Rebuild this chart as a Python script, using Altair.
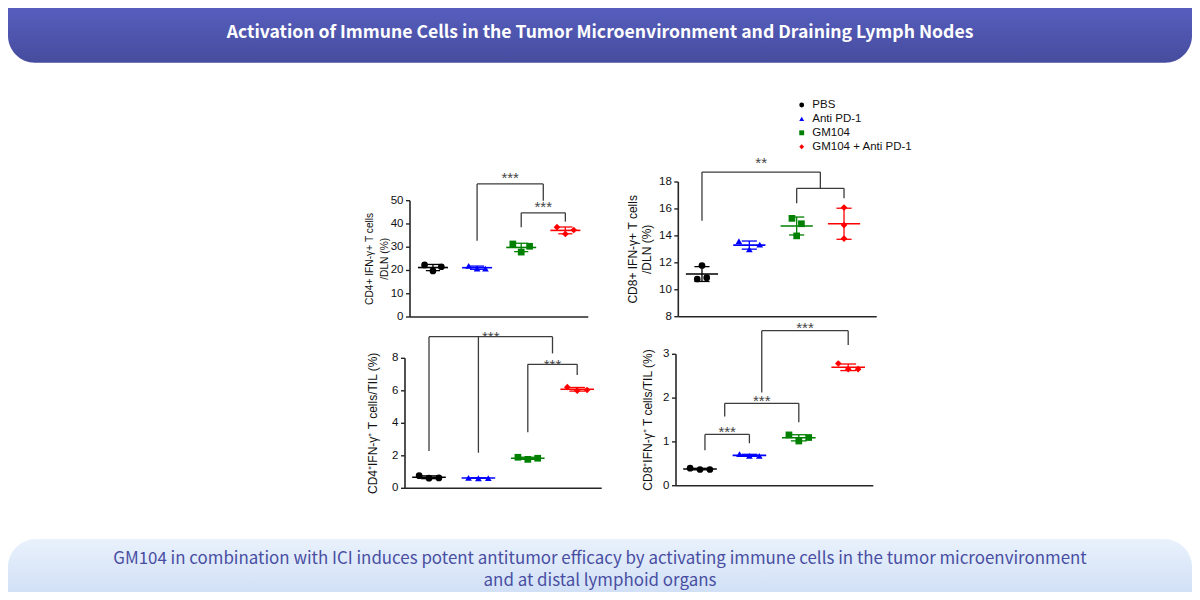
import altair as alt
import pandas as pd

# ---------------- data ----------------
groups = ["PBS", "Anti PD-1", "GM104", "GM104 + Anti PD-1"]
group_colors = ["#000000", "#0000ff", "#008000", "#ff0000"]
group_shapes = ["circle", "triangle-up", "square", "diamond"]

header_title = "Activation of Immune Cells in the Tumor Microenvironment and Draining Lymph Nodes"
footer_text = ("GM104 in combination with ICI induces potent antitumor efficacy by activating immune cells in the tumor microenvironment"
               "\nand at distal lymphoid organs")

# replicate values per group (PBS, Anti PD-1, GM104, GM104 + Anti PD-1)
cd4_dln = [[22.4, 19.8, 21.6], [22.0, 20.8, 20.8], [31.4, 27.9, 30.4], [38.6, 35.7, 37.4]]
cd8_dln = [[10.8, 11.8, 10.9], [13.6, 13.0, 13.35], [15.3, 14.0, 14.9], [16.1, 14.8, 13.8]]
cd4_til = [[0.78, 0.62, 0.64], [0.64, 0.62, 0.63], [1.91, 1.78, 1.85], [6.22, 6.01, 6.05]]
cd8_til = [[0.40, 0.37, 0.37], [0.72, 0.68, 0.68], [1.16, 1.02, 1.10], [2.79, 2.66, 2.66]]

cd4_dln_ticks = [0, 10, 20, 30, 40, 50]
cd8_dln_ticks = [8, 10, 12, 14, 16, 18]
cd4_til_ticks = [0, 2, 4, 6, 8]
cd8_til_ticks = [0, 1, 2, 3]

cd4_dln_title = "CD4+ IFN-γ+ T cells\n/DLN (%)"
cd8_dln_title = "CD8+ IFN-γ+ T cells\n/DLN (%)"
cd4_til_title = "CD4⁺IFN-γ⁺ T cells/TIL (%)"
cd8_til_title = "CD8⁺IFN-γ⁺ T cells/TIL (%)"

# significance brackets: bars (from group, to group, level, label), legs (at group, bottom, top)
cd4_dln_bars = [(2, 3.5, 57.2, "***"), (3, 4, 44.8, "***")]
cd4_dln_legs = [(2, 32.8, 57.2), (3.5, 50.0, 57.2), (3, 38.6, 44.8), (4, 41.0, 44.8)]
cd8_dln_bars = [(1, 3.5, 18.74, "**"), (3, 4, 17.53, "")]
cd8_dln_legs = [(1, 15.13, 18.74), (3.5, 17.53, 18.74), (3, 16.42, 17.53), (4, 16.8, 17.53)]
cd4_til_bars = [(1, 3.5, 9.33, "***"), (3, 4, 7.63, "***")]
cd4_til_legs = [(1, 2.3, 9.33), (2, 2.19, 9.33), (3.5, 8.3, 9.33), (3, 3.45, 7.63), (4, 6.97, 7.63)]
cd8_til_bars = [(1.1, 2, 1.17, "***"), (1.5, 3, 1.88, "***"), (2.25, 4, 3.54, "***")]
cd8_til_legs = [(1.1, 0.81, 1.17), (2, 0.97, 1.17), (1.5, 1.58, 1.88), (3, 1.45, 1.88),
                (2.25, 2.13, 3.54), (4, 3.21, 3.54)]

# ---------------- styling ----------------
W, H = 1184, 584
FONT = "Liberation Sans"
AXIS = "#262626"
BRACKET = "#3c3c3c"
TICK_LEN = 4

color_scale = alt.Scale(domain=groups, range=group_colors)
shape_scale = alt.Scale(domain=groups, range=group_shapes)
col = alt.Color("group:N", scale=color_scale, legend=None)
shp = alt.Shape("group:N", scale=shape_scale, legend=None)


def panel(vals, spread, ticks, ydom, yrange, xdom, xrange, title, title_size, title_off,
          title_lh, bars, legs, star_dy):
    rows = []
    for gi, reps in enumerate(vals):
        for ri, v in enumerate(reps):
            rows.append({"g": gi + 1, "group": groups[gi], "rep": ri, "value": v,
                         "spread": spread[gi]})
    df = pd.DataFrame(rows)
    xs = alt.Scale(domain=xdom, range=xrange, nice=False, zero=False)
    ys = alt.Scale(domain=ydom, range=yrange, nice=False, zero=False)

    def X(f):
        return alt.X(f, scale=xs, axis=None)

    def Y(f):
        return alt.Y(f, scale=ys, axis=None)

    # ----- hand-drawn axes through the panel scales -----
    unit = (xdom[1] - xdom[0]) / (xrange[1] - xrange[0])
    frame = pd.DataFrame({"x0": [xdom[0]], "x1": [xdom[1]], "y0": [ydom[0]], "y1": [ydom[1]],
                          "ym": [(ydom[0] + ydom[1]) / 2], "title": [title]})
    tick_df = pd.DataFrame({"t": ticks})
    tick_df["x0"] = xdom[0]
    tick_df["xt"] = xdom[0] - TICK_LEN * unit
    y_dom = alt.Chart(frame).mark_rule(color=AXIS, strokeWidth=1.6).encode(
        x=X("x0:Q"), y=Y("y0:Q"), y2="y1:Q")
    x_dom = alt.Chart(frame).mark_rule(color=AXIS, strokeWidth=1.6).encode(
        x=X("x0:Q"), x2="x1:Q", y=Y("y0:Q"))
    y_ticks = alt.Chart(tick_df).mark_rule(color=AXIS, strokeWidth=1.4).encode(
        x=X("xt:Q"), x2="x0:Q", y=Y("t:Q"))
    y_labels = alt.Chart(tick_df).mark_text(font=FONT, fontSize=11.5, color="#111111", align="right",
                                           baseline="middle", xOffset=-(TICK_LEN + 2.5)).encode(
        x=X("x0:Q"), y=Y("t:Q"), text=alt.Text("t:Q", format="d"))
    y_title = alt.Chart(frame).mark_text(font=FONT, fontSize=title_size, color="#111111", angle=270,
                                        align="center", baseline="middle", lineBreak="\n",
                                        lineHeight=title_lh, xOffset=-title_off).encode(
        x=X("x0:Q"), y=Y("ym:Q"), text="title:N")

    # ----- data -----
    base = alt.Chart(df)
    points = base.transform_calculate(
        xp="datum.g + (datum.rep - 1) * datum.spread"
    ).mark_point(filled=True, size=45, opacity=1).encode(
        x=X("xp:Q"), y=Y("value:Q"), color=col, shape=shp)
    stats = base.transform_aggregate(
        m="mean(value)", sd="stdev(value)", groupby=["g", "group"]
    ).transform_calculate(
        lo="datum.m - datum.sd", hi="datum.m + datum.sd",
        ml="datum.g - 0.34", mr="datum.g + 0.34",
        cl="datum.g - 0.16", cr="datum.g + 0.16",
    )
    mean_line = stats.mark_rule(strokeWidth=1.6).encode(x=X("ml:Q"), x2="mr:Q", y=Y("m:Q"), color=col)
    err = stats.mark_rule(strokeWidth=1.3).encode(x=X("g:Q"), y=Y("lo:Q"), y2="hi:Q", color=col)
    cap_hi = stats.mark_rule(strokeWidth=1.3).encode(x=X("cl:Q"), x2="cr:Q", y=Y("hi:Q"), color=col)
    cap_lo = stats.mark_rule(strokeWidth=1.3).encode(x=X("cl:Q"), x2="cr:Q", y=Y("lo:Q"), color=col)

    bars_df = pd.DataFrame(bars, columns=["x1", "x2", "lvl", "label"])
    legs_df = pd.DataFrame(legs, columns=["x", "lo", "hi"])
    hbar = alt.Chart(bars_df).mark_rule(color=BRACKET, strokeWidth=1.3).encode(
        x=X("x1:Q"), x2="x2:Q", y=Y("lvl:Q"))
    leg = alt.Chart(legs_df).mark_rule(color=BRACKET, strokeWidth=1.3).encode(
        x=X("x:Q"), y=Y("lo:Q"), y2="hi:Q")
    stars = alt.Chart(bars_df).transform_calculate(
        xm="(datum.x1 + datum.x2) / 2"
    ).mark_text(font=FONT, fontSize=15, color="#444444", baseline="alphabetic", dy=star_dy).encode(
        x=X("xm:Q"), y=Y("lvl:Q"), text="label:N")
    return alt.layer(y_dom, x_dom, y_ticks, y_labels, y_title,
                     hbar, leg, stars, mean_line, err, cap_hi, cap_lo, points)


p1 = panel(cd4_dln, [0.19, 0.19, 0.19, 0.19], cd4_dln_ticks, [0, 50], [309, 192.7],
           [0.48, 4.52], [402, 580.3], cd4_dln_title, 10.2, 40, 15,
           cd4_dln_bars, cd4_dln_legs, -0.5)
p2 = panel(cd8_dln, [0.1, 0.22, 0.1, 0.0], cd8_dln_ticks, [8, 18], [308.7, 174],
           [0.5, 4.69], [670.3, 868.7], cd8_dln_title, 12, 45.3, 14,
           cd8_dln_bars, cd8_dln_legs, -3.8)
p3 = panel(cd4_til, [0.2, 0.2, 0.2, 0.2], cd4_til_ticks, [0, 8], [480.3, 350.3],
           [0.514, 4.496], [397, 593.7], cd4_til_title, 12, 31.7, 14,
           cd4_til_bars, cd4_til_legs, 5.5)
p4 = panel(cd8_til, [0.2, 0.2, 0.2, 0.2], cd8_til_ticks, [0, 3], [477.7, 346.3],
           [0.514, 4.508], [668, 865.3], cd8_til_title, 12, 28, 14,
           cd8_til_bars, cd8_til_legs, 2.2)

# ---------------- legend (drawn through its own point scale) ----------------
legend_df = pd.DataFrame({"group": groups})
leg_y = alt.Y("group:N", scale=alt.Scale(type="point", domain=groups, range=[97, 138.7], padding=0),
              axis=None)
legend_sym = alt.Chart(legend_df).mark_point(filled=True, size=24, opacity=1).encode(
    x=alt.value(793.7), y=leg_y, color=col, shape=shp)
legend_txt = alt.Chart(legend_df).mark_text(font=FONT, fontSize=11.5, color="#111111", align="left",
                                            baseline="middle").encode(
    x=alt.value(804.3), y=leg_y, text="group:N")
legend_layer = alt.layer(legend_sym, legend_txt)

# ---------------- banners ----------------
head_df = pd.DataFrame({"t": [header_title]})
foot_df = pd.DataFrame({"t": [footer_text]})
head_fill = alt.LinearGradient(gradient="linear", x1=0, x2=0, y1=0, y2=1,
                               stops=[alt.GradientStop(offset=0, color="#5a62c5"),
                                      alt.GradientStop(offset=1, color="#464c9d")])
foot_fill = alt.LinearGradient(gradient="linear", x1=0, x2=0, y1=0, y2=1,
                               stops=[alt.GradientStop(offset=0, color="#e9f1fc"),
                                      alt.GradientStop(offset=1, color="#c9daf4")])
head_rect = alt.Chart(head_df).mark_rect(fill=head_fill, cornerRadiusBottomLeft=27,
                                          cornerRadiusBottomRight=27).encode(
    x=alt.value(0), x2=alt.value(W), y=alt.value(-12), y2=alt.value(54.7))
head_text = alt.Chart(head_df).mark_text(font="Noto Sans CJK KR", fontSize=17.6, fontWeight="bold",
                                         color="#ffffff", baseline="middle", align="center").encode(
    x=alt.value(W / 2), y=alt.value(25), text="t:N")
foot_rect = alt.Chart(foot_df).mark_rect(fill=foot_fill, cornerRadiusTopLeft=28,
                                          cornerRadiusTopRight=28).encode(
    x=alt.value(0), x2=alt.value(W), y=alt.value(531), y2=alt.value(H + 20))
foot_text = alt.Chart(foot_df).mark_text(font="Noto Sans CJK KR", fontSize=16.9, fontWeight="normal",
                                         color="#484ea2", baseline="middle", align="center",
                                         lineBreak="\n", lineHeight=22.5).encode(
    x=alt.value(W / 2), y=alt.value(550.5), text="t:N")

chart = alt.layer(head_rect, head_text, foot_rect, foot_text, legend_layer, p1, p2, p3, p4).resolve_scale(
    x="independent", y="independent"
).properties(
    width=W, height=H, padding=0, autosize=alt.AutoSizeParams(type="none"), background="#ffffff"
).configure_view(strokeWidth=0)

chart.save("out.html", embed_options={"renderer": "svg", "actions": False})
